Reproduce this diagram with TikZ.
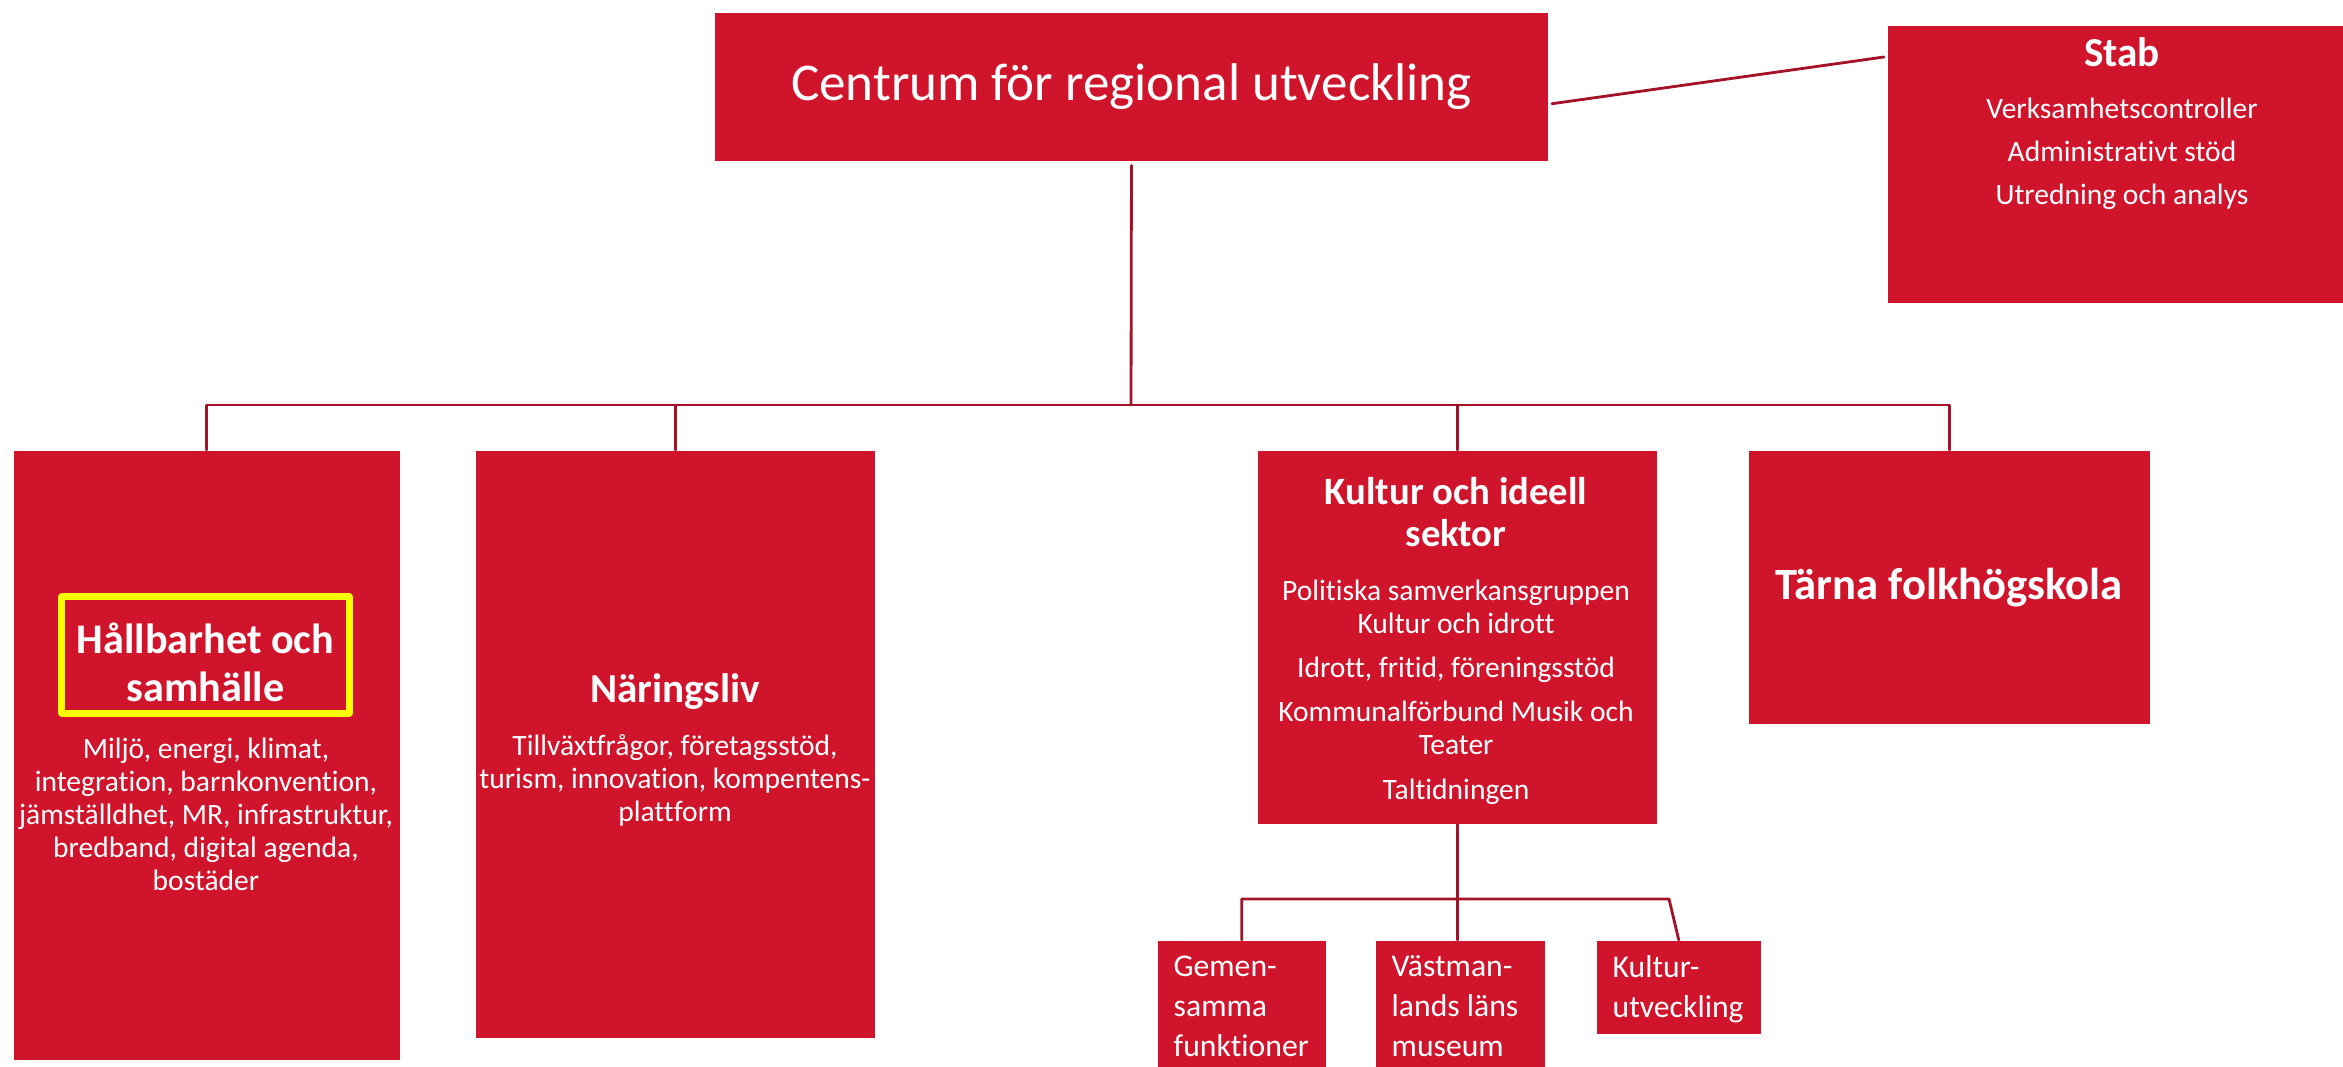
\documentclass[tikz,border=0pt]{standalone}
\usepackage{fontspec}
\setmainfont[Ligatures=NoCommon]{Carlito}
\usepackage{xcolor}
\usetikzlibrary{calc}
\definecolor{rvred}{RGB}{207,20,43}
\definecolor{rvline}{RGB}{163,18,40}
\definecolor{rvyellow}{RGB}{255,255,0}
\begin{document}
\begin{tikzpicture}[line cap=round,line join=round,x=0.01cm,y=-0.01cm,
  unit/.style={fill=rvred,draw=none,inner sep=0pt,anchor=north west},
  head/.style={text=white,align=center,font=\bfseries\fontsize{11.7}{13.6}\selectfont},
  body/.style={text=white,align=center,font=\fontsize{8.4}{9.4}\selectfont},
  sub/.style={text=white,align=left,anchor=north west,inner sep=0pt,font=\fontsize{9}{11.4}\selectfont},
  link/.style={draw=rvline,line width=0.8pt}]
\useasboundingbox (0,0) rectangle (2343,1067);
\clip (0,0) rectangle (2343,1067);
\node[unit,minimum width=8.33cm,minimum height=1.48cm,text=white,font=\fontsize{15.1}{18}\selectfont] (centrum) at (714,12) {Centrum för regional utveckling};
\node[unit,minimum width=4.70cm,minimum height=2.77cm] (stab) at (1887,25) {};
\node[head] (stab-h) at (2122,52) {Stab};
\node[body] (stab-b) at (2122,154) {Verksamhetscontroller\\[2.8pt]Administrativt stöd\\[2.8pt]Utredning och analys};
\node[unit,minimum width=3.86cm,minimum height=6.09cm] (hall) at (13,450) {};
\node[draw=rvyellow,line width=2pt,minimum width=2.87cm,minimum height=1.16cm] (hall-f) at (205.5,655) {};
\node[head,font=\bfseries\fontsize{12}{13.6}\selectfont] (hall-h) at (205.5,662) {Hållbarhet och\\samhälle};
\node[body] (hall-b) at (206,814) {Miljö, energi, klimat,\\integration, barnkonvention,\\jämställdhet, MR, infrastruktur,\\bredband, digital agenda,\\bostäder};
\node[unit,minimum width=3.99cm,minimum height=5.87cm] (nar) at (475,450) {};
\node[head] (nar-h) at (675,692) {Näringsliv};
\node[body] (nar-b) at (675,780) {Tillväxtfrågor, företagsstöd,\\turism, innovation, kompentens-\\plattform};
\node[unit,minimum width=3.99cm,minimum height=3.73cm] (kult) at (1257,450) {};
\node[head,font=\bfseries\fontsize{11}{12}\selectfont] (kult-h) at (1456,512) {Kultur och ideell\\sektor};
\node[body] (kult-b) at (1456,692) {Politiska samverkansgruppen\\Kultur och idrott\\[3.2pt]Idrott, fritid, föreningsstöd\\[3.2pt]Kommunalförbund Musik och\\Teater\\[3.2pt]Taltidningen};
\node[unit,minimum width=4.01cm,minimum height=2.73cm,text=white,font=\bfseries\fontsize{12.7}{15}\selectfont] (tarna) at (1748,450) {Tärna folkhögskola};
\node[unit,minimum width=1.68cm,minimum height=1.60cm] (gem) at (1157,940) {};
\node[unit,minimum width=1.69cm,minimum height=1.60cm] (vast) at (1375,940) {};
\node[unit,minimum width=1.64cm,minimum height=0.93cm] (kutv) at (1596,940) {};
\node[sub] (gem-t) at (1173,955) {Gemen-\\samma\\funktioner};
\node[sub] (vast-t) at (1391,955) {Västman-\\lands läns\\museum};
\node[sub] (kutv-t) at (1612,955) {Kultur-\\utveckling};
\coordinate (bus) at (1131,405);
\coordinate (subend) at (1669,899);
\draw[link] ($(centrum.east)+(3,17)$) -- ($(stab.north west)+(-3,32)$);
\draw[link] ($(centrum.south)+(0,4)$) -- (bus);
\draw[link] (hall.north) |- (bus) -| (tarna.north);
\draw[link] (nar.north) -- (nar.north |- bus);
\draw[link] (kult.north) -- (kult.north |- bus);
\draw[link] (kult.south) -- (kult.south |- vast.north);
\draw[link] (gem.north) |- (subend) -- (kutv.north);
\end{tikzpicture}
\end{document}
